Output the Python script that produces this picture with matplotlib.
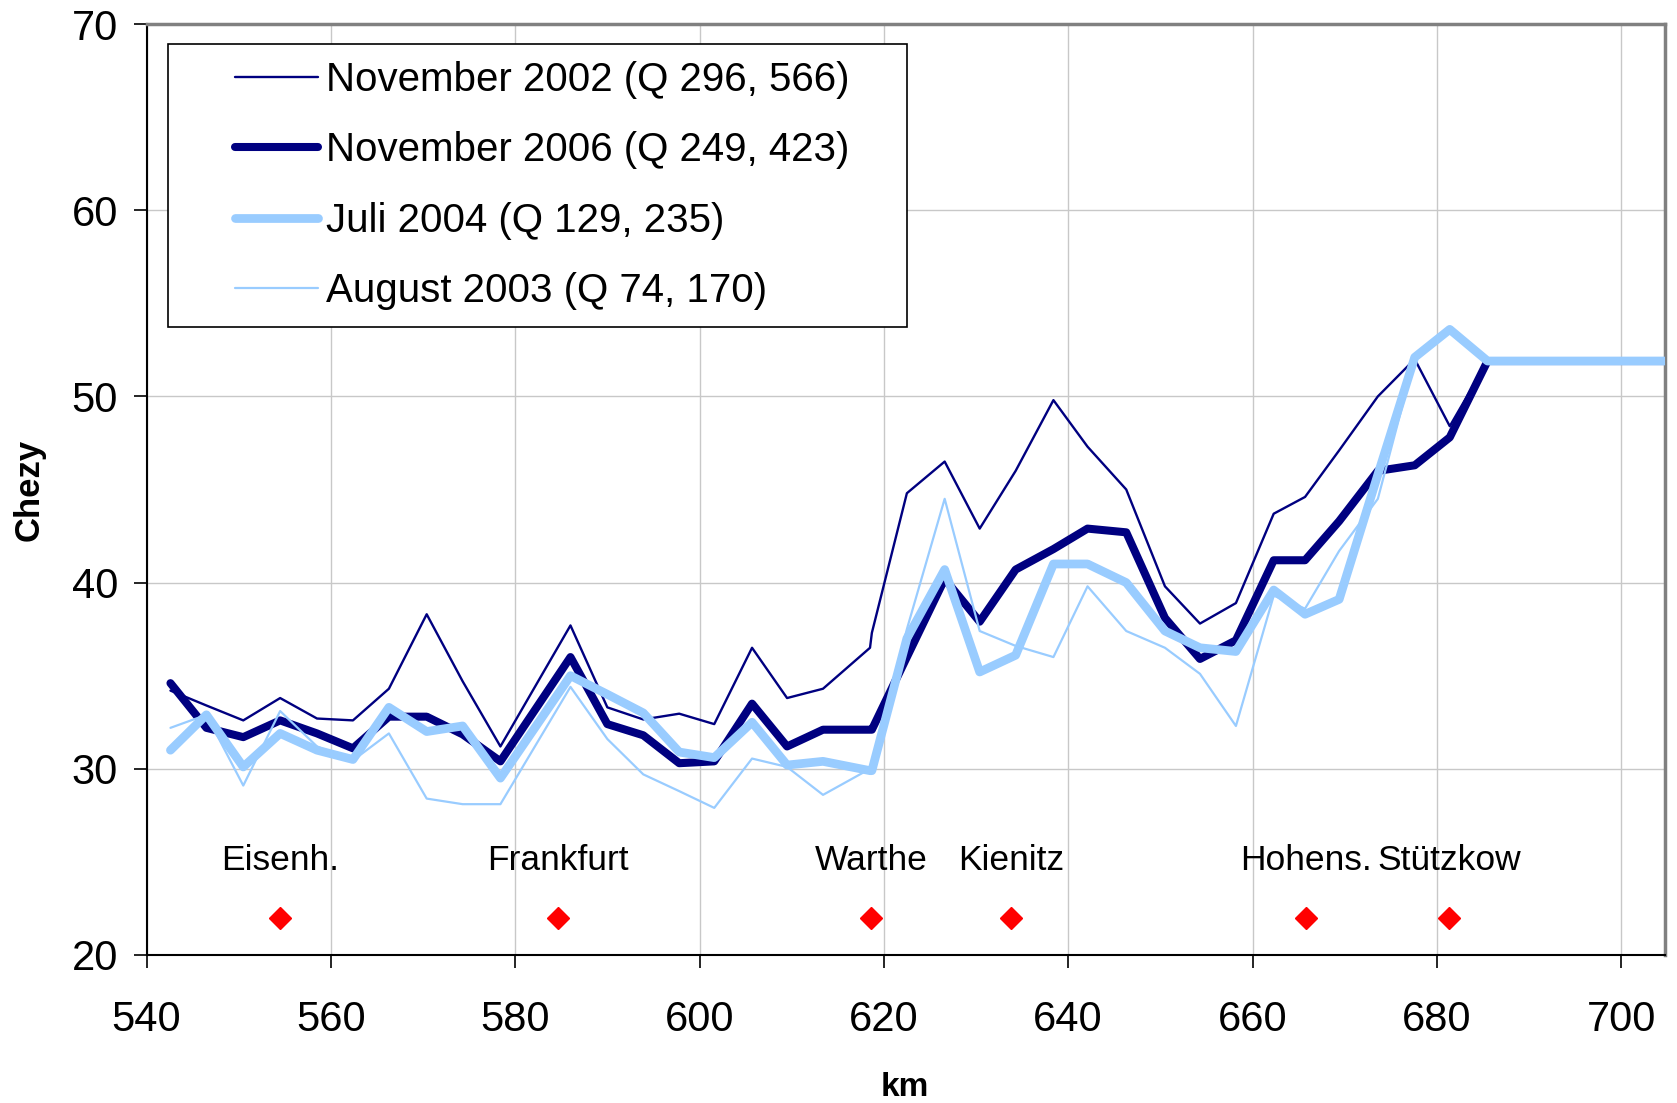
import matplotlib.pyplot as plt
from matplotlib.patches import Rectangle

plt.rcParams['font.family'] = ['Liberation Sans', 'DejaVu Sans']

# river kilometre of the profile points
km = [542.6, 546.5, 550.5, 554.5, 558.5, 562.4, 566.3, 570.4, 574.3, 578.4,
      586.0, 590.0, 593.9, 597.8, 601.6, 605.7, 609.5, 613.4, 618.5, 618.7,
      622.5, 626.6, 630.4, 634.3, 638.4, 642.1, 646.3, 650.5, 654.3, 658.2,
      662.3, 665.7, 669.4, 673.6, 677.6, 681.4, 685.5, 704.7]

nov2002 = [34.2, 33.4, 32.6, 33.8, 32.7, 32.6, 34.3, 38.3, 34.7, 31.2,
           37.7, 33.3, 32.65, 32.96, 32.4, 36.5, 33.8, 34.3, 36.5, 37.3,
           44.8, 46.5, 42.9, 46.0, 49.8, 47.3, 45.0, 39.8, 37.8, 38.9,
           43.7, 44.6, 47.1, 50.0, 52.0, 48.4, 51.9, 51.9]
nov2006 = [34.6, 32.2, 31.7, 32.6, 31.9, 31.1, 32.8, 32.8, 31.85, 30.4,
           36.0, 32.4, 31.8, 30.3, 30.4, 33.5, 31.2, 32.1, 32.1, 32.1,
           36.0, 40.2, 37.9, 40.7, 41.8, 42.9, 42.7, 38.1, 35.9, 36.9,
           41.2, 41.2, 43.3, 46.0, 46.3, 47.8, 51.9, 51.9]
juli2004 = [31.0, 32.9, 30.1, 31.9, 31.0, 30.5, 33.3, 32.0, 32.3, 29.5,
            35.0, 34.0, 33.0, 30.9, 30.6, 32.5, 30.2, 30.4, 29.9, 29.9,
            37.0, 40.7, 35.2, 36.1, 41.0, 41.0, 40.0, 37.4, 36.5, 36.3,
            39.6, 38.3, 39.1, 45.8, 52.1, 53.6, 51.9, 51.9]
aug2003 = [32.2, 32.9, 29.1, 33.1, 31.2, 30.45, 31.9, 28.4, 28.1, 28.1,
           34.4, 31.6, 29.7, 28.8, 27.9, 30.55, 30.1, 28.6, 30.0, 30.0,
           37.5, 44.5, 37.4, 36.6, 36.0, 39.8, 37.4, 36.5, 35.1, 32.3,
           39.3, 38.6, 41.7, 44.5, 52.0, 53.5, 51.9, 51.9]

places = ['Eisenh.', 'Frankfurt', 'Warthe', 'Kienitz', 'Hohens.', 'Stützkow']
place_km = [554.5, 584.6, 618.6, 633.8, 665.8, 681.3]

dark = '#000080'
light = '#99ccff'

fig = plt.figure(figsize=(16.77, 11.03), dpi=100)
ax = fig.add_axes([146.5 / 1677, 1 - 955 / 1103, 1518 / 1677, 931 / 1103])

style = dict(solid_joinstyle='round', solid_capstyle='round')
ax.plot(km, nov2002, color=dark, lw=1.7, label='November 2002 (Q 296, 566)', zorder=3, **style)
ax.plot(km, nov2006, color=dark, lw=5.8, label='November 2006 (Q 249, 423)', zorder=4, **style)
ax.plot(km, juli2004, color=light, lw=6.3, label='Juli 2004 (Q 129, 235)', zorder=5, **style)
ax.plot(km, aug2003, color=light, lw=1.6, label='August 2003 (Q 74, 170)', zorder=6, **style)

ax.plot(place_km, [22] * len(place_km), ls='none', marker='D', ms=11,
        color='red', zorder=7)
for name, x in zip(places, place_km):
    ax.text(x, 24.55, name, ha='center', va='baseline', fontsize=25.5)

ax.set_xlim(540, 704.7)
ax.set_ylim(20, 70)
ax.set_xticks(range(540, 701, 20))
ax.set_yticks(range(20, 71, 10))
ax.grid(color='#c8c8c8', lw=1.0, zorder=0)
ax.set_axisbelow(True)
ax.tick_params(direction='out', length=9.5, width=1.2, labelsize=30)
ax.tick_params(axis='x', pad=23)
ax.tick_params(axis='y', pad=11)

for s in ['left', 'bottom']:
    ax.spines[s].set_color('black')
    ax.spines[s].set_linewidth(1.5)
for s in ['top', 'right']:
    ax.spines[s].set_color('#808080')
    ax.spines[s].set_linewidth(2.5)

# legend box (Excel style, wider than its content)
ax.add_patch(Rectangle((0.0142, 0.6742), 0.4868, 0.3043, transform=ax.transAxes,
                       facecolor='white', edgecolor='black', lw=1.2, zorder=8))
leg = ax.legend(loc='upper left', bbox_to_anchor=(0.0583, 0.9600), frameon=False,
                fontsize=29, handlelength=2.05, handletextpad=0.2,
                labelspacing=0.80, borderpad=0, borderaxespad=0)
leg.set_zorder(9)

fig.text(29 / 1677, 1 - 490 / 1103, 'Chezy', rotation=90, ha='center', va='center',
         fontsize=25, fontweight='bold')
fig.text(905 / 1677, 1 - 1088 / 1103, 'km', ha='center', va='center',
         fontsize=24, fontweight='bold')

fig.savefig('out.png', dpi=100)
